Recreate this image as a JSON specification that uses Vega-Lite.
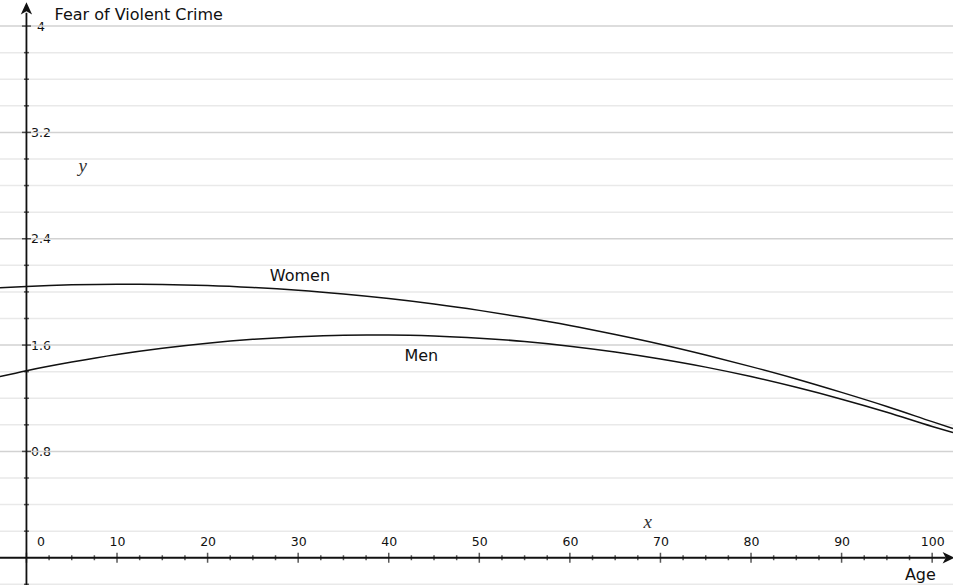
{
  "$schema": "https://vega.github.io/schema/vega-lite/v6.json",
  "width": 953,
  "height": 585,
  "padding": 0,
  "autosize": {"type": "none"},
  "background": "white",
  "config": {"view": {"stroke": null}},
  "datasets": {
    "curves": [
      {"age": -2.92, "fear": 2.031, "group": "Women"},
      {"age": 0, "fear": 2.041, "group": "Women"},
      {"age": 5, "fear": 2.053, "group": "Women"},
      {"age": 10, "fear": 2.058, "group": "Women"},
      {"age": 15, "fear": 2.056, "group": "Women"},
      {"age": 20, "fear": 2.048, "group": "Women"},
      {"age": 25, "fear": 2.033, "group": "Women"},
      {"age": 30, "fear": 2.012, "group": "Women"},
      {"age": 35, "fear": 1.984, "group": "Women"},
      {"age": 40, "fear": 1.95, "group": "Women"},
      {"age": 45, "fear": 1.909, "group": "Women"},
      {"age": 50, "fear": 1.861, "group": "Women"},
      {"age": 55, "fear": 1.807, "group": "Women"},
      {"age": 60, "fear": 1.747, "group": "Women"},
      {"age": 65, "fear": 1.679, "group": "Women"},
      {"age": 70, "fear": 1.606, "group": "Women"},
      {"age": 75, "fear": 1.525, "group": "Women"},
      {"age": 80, "fear": 1.438, "group": "Women"},
      {"age": 85, "fear": 1.345, "group": "Women"},
      {"age": 90, "fear": 1.244, "group": "Women"},
      {"age": 95, "fear": 1.138, "group": "Women"},
      {"age": 100, "fear": 1.024, "group": "Women"},
      {"age": 102.3, "fear": 0.972, "group": "Women"},
      {"age": -2.92, "fear": 1.363, "group": "Men"},
      {"age": 0, "fear": 1.407, "group": "Men"},
      {"age": 5, "fear": 1.472, "group": "Men"},
      {"age": 10, "fear": 1.529, "group": "Men"},
      {"age": 15, "fear": 1.576, "group": "Men"},
      {"age": 20, "fear": 1.614, "group": "Men"},
      {"age": 25, "fear": 1.643, "group": "Men"},
      {"age": 30, "fear": 1.663, "group": "Men"},
      {"age": 35, "fear": 1.674, "group": "Men"},
      {"age": 40, "fear": 1.676, "group": "Men"},
      {"age": 45, "fear": 1.669, "group": "Men"},
      {"age": 50, "fear": 1.652, "group": "Men"},
      {"age": 55, "fear": 1.627, "group": "Men"},
      {"age": 60, "fear": 1.592, "group": "Men"},
      {"age": 65, "fear": 1.548, "group": "Men"},
      {"age": 70, "fear": 1.495, "group": "Men"},
      {"age": 75, "fear": 1.434, "group": "Men"},
      {"age": 80, "fear": 1.363, "group": "Men"},
      {"age": 85, "fear": 1.282, "group": "Men"},
      {"age": 90, "fear": 1.193, "group": "Men"},
      {"age": 95, "fear": 1.095, "group": "Men"},
      {"age": 100, "fear": 0.988, "group": "Men"},
      {"age": 102.3, "fear": 0.942, "group": "Men"}
    ],
    "grid": [
      {"g": -0.2, "kind": "minor", "at": 0}, {"g": 0.2, "kind": "minor", "at": 0}, {"g": 0.4, "kind": "minor", "at": 0}, {"g": 0.6, "kind": "minor", "at": 0},
      {"g": 0.8, "kind": "major", "at": 0}, {"g": 1.0, "kind": "minor", "at": 0}, {"g": 1.2, "kind": "minor", "at": 0}, {"g": 1.4, "kind": "minor", "at": 0},
      {"g": 1.6, "kind": "major", "at": 0}, {"g": 1.8, "kind": "minor", "at": 0}, {"g": 2.0, "kind": "minor", "at": 0}, {"g": 2.2, "kind": "minor", "at": 0},
      {"g": 2.4, "kind": "major", "at": 0}, {"g": 2.6, "kind": "minor", "at": 0}, {"g": 2.8, "kind": "minor", "at": 0}, {"g": 3.0, "kind": "minor", "at": 0},
      {"g": 3.2, "kind": "major", "at": 0}, {"g": 3.4, "kind": "minor", "at": 0}, {"g": 3.6, "kind": "minor", "at": 0}, {"g": 3.8, "kind": "minor", "at": 0},
      {"g": 4.0, "kind": "major", "at": 0}
    ],
    "xticks": [
      {"v": 0, "kind": "major", "at": 0}, {"v": 2.5, "kind": "minor", "at": 0}, {"v": 5, "kind": "minor", "at": 0}, {"v": 7.5, "kind": "minor", "at": 0},
      {"v": 10, "kind": "major", "at": 0}, {"v": 12.5, "kind": "minor", "at": 0}, {"v": 15, "kind": "minor", "at": 0}, {"v": 17.5, "kind": "minor", "at": 0},
      {"v": 20, "kind": "major", "at": 0}, {"v": 22.5, "kind": "minor", "at": 0}, {"v": 25, "kind": "minor", "at": 0}, {"v": 27.5, "kind": "minor", "at": 0},
      {"v": 30, "kind": "major", "at": 0}, {"v": 32.5, "kind": "minor", "at": 0}, {"v": 35, "kind": "minor", "at": 0}, {"v": 37.5, "kind": "minor", "at": 0},
      {"v": 40, "kind": "major", "at": 0}, {"v": 42.5, "kind": "minor", "at": 0}, {"v": 45, "kind": "minor", "at": 0}, {"v": 47.5, "kind": "minor", "at": 0},
      {"v": 50, "kind": "major", "at": 0}, {"v": 52.5, "kind": "minor", "at": 0}, {"v": 55, "kind": "minor", "at": 0}, {"v": 57.5, "kind": "minor", "at": 0},
      {"v": 60, "kind": "major", "at": 0}, {"v": 62.5, "kind": "minor", "at": 0}, {"v": 65, "kind": "minor", "at": 0}, {"v": 67.5, "kind": "minor", "at": 0},
      {"v": 70, "kind": "major", "at": 0}, {"v": 72.5, "kind": "minor", "at": 0}, {"v": 75, "kind": "minor", "at": 0}, {"v": 77.5, "kind": "minor", "at": 0},
      {"v": 80, "kind": "major", "at": 0}, {"v": 82.5, "kind": "minor", "at": 0}, {"v": 85, "kind": "minor", "at": 0}, {"v": 87.5, "kind": "minor", "at": 0},
      {"v": 90, "kind": "major", "at": 0}, {"v": 92.5, "kind": "minor", "at": 0}, {"v": 95, "kind": "minor", "at": 0}, {"v": 97.5, "kind": "minor", "at": 0},
      {"v": 100, "kind": "major", "at": 0}
    ],
    "axes": [
      {"xa": -2.92, "xb": 101.5, "ya": 0, "yb": 0},
      {"xa": 0, "xb": 0, "ya": -0.205, "yb": 4.1}
    ],
    "notes": [
      {"age": 12.4, "fear": 4.083, "text": "Fear of Violent Crime"},
      {"age": 30.2, "fear": 2.12, "text": "Women"},
      {"age": 43.6, "fear": 1.52, "text": "Men"},
      {"age": 98.7, "fear": -0.128, "text": "Age"}
    ],
    "math": [
      {"age": 6.2, "fear": 2.95, "text": "y"},
      {"age": 68.6, "fear": 0.27, "text": "x"}
    ],
    "arrows": [
      {"age": 0, "fear": 4.125, "dir": "up"},
      {"age": 101.7, "fear": 0, "dir": "right"}
    ]
  },
  "layer": [
    {
      "data": {"name": "grid"},
      "mark": {"type": "rule", "strokeWidth": 1.5},
      "encoding": {
        "y": {"field": "g", "type": "quantitative", "scale": {"domain": [-0.205, 4.196], "nice": false, "zero": false},
              "axis": {"orient": "left", "offset": -26.5, "values": [0.8, 1.6, 2.4, 3.2, 4], "grid": false, "domain": false, "ticks": false, "tickSize": 0, "labelAlign": "left", "labelPadding": {"condition": {"test": "datum.value == 4", "value": -10}, "value": -4}, "labelFont": "DejaVu Sans", "labelFontSize": 12.5, "labelColor": "#111", "title": null, "labelBaseline": "middle", "labelExpr": "datum.value == 4 ? '4' : format(datum.value, '.1f')"}},
        "color": {"field": "kind", "type": "nominal", "scale": {"domain": ["major", "minor"], "range": ["#d2d2d2", "#e9e9e9"]}, "legend": null}
      }
    },
    {
      "data": {"name": "curves"},
      "mark": {"type": "line", "interpolate": "monotone", "strokeWidth": 1.5, "color": "#111"},
      "encoding": {
        "x": {"field": "age", "type": "quantitative", "scale": {"domain": [-2.92, 102.3], "nice": false, "zero": false},
              "axis": {"orient": "bottom", "offset": -27.3, "values": [0, 10, 20, 30, 40, 50, 60, 70, 80, 90, 100], "grid": false, "domain": false, "ticks": false, "tickSize": 0, "labelPadding": -9, "labelBaseline": "bottom", "labelFont": "DejaVu Sans", "labelFontSize": 12.5, "labelColor": "#111", "title": null, "labelOffset": {"condition": {"test": "datum.value == 0", "value": 14}, "value": 0}}},
        "y": {"field": "fear", "type": "quantitative"},
        "detail": {"field": "group"}
      }
    },
    {
      "data": {"name": "axes"},
      "mark": {"type": "rule", "strokeWidth": 1.8, "color": "#111"},
      "encoding": {
        "x": {"field": "xa", "type": "quantitative"},
        "x2": {"field": "xb"},
        "y": {"field": "ya", "type": "quantitative"},
        "y2": {"field": "yb"}
      }
    },
    {
      "data": {"name": "arrows"},
      "mark": {"type": "point", "filled": true, "color": "#111", "opacity": 1, "size": 200},
      "encoding": {
        "x": {"field": "age", "type": "quantitative"},
        "y": {"field": "fear", "type": "quantitative"},
        "shape": {"field": "dir", "type": "nominal", "scale": {"domain": ["up", "right"], "range": ["M0,-1L0.8,0.7L0,0.25L-0.8,0.7Z", "M1,0L-0.7,0.8L-0.25,0L-0.7,-0.8Z"]}, "legend": null}
      }
    },
    {
      "data": {"name": "xticks"},
      "mark": {"type": "tick", "orient": "vertical", "thickness": 1.5, "color": "#111"},
      "encoding": {
        "x": {"field": "v", "type": "quantitative"},
        "y": {"field": "at", "type": "quantitative"},
        "size": {"field": "kind", "type": "nominal", "scale": {"domain": ["major", "minor"], "range": [10, 5]}, "legend": null}
      }
    },
    {
      "data": {"name": "grid"},
      "mark": {"type": "tick", "orient": "horizontal", "thickness": 1.5, "color": "#111"},
      "encoding": {
        "y": {"field": "g", "type": "quantitative"},
        "x": {"field": "at", "type": "quantitative"},
        "size": {"field": "kind", "type": "nominal", "scale": {"domain": ["major", "minor"], "range": [9, 5]}, "legend": null}
      }
    },
    {
      "data": {"name": "notes"},
      "mark": {"type": "text", "font": "DejaVu Sans", "fontSize": 16, "color": "#111", "align": "center", "baseline": "middle"},
      "encoding": {
        "x": {"field": "age", "type": "quantitative"},
        "y": {"field": "fear", "type": "quantitative"},
        "text": {"field": "text"}
      }
    },
    {
      "data": {"name": "math"},
      "mark": {"type": "text", "font": "Liberation Serif", "fontStyle": "italic", "fontSize": 19, "color": "#333", "align": "center", "baseline": "middle"},
      "encoding": {
        "x": {"field": "age", "type": "quantitative"},
        "y": {"field": "fear", "type": "quantitative"},
        "text": {"field": "text"}
      }
    }
  ],
  "resolve": {"scale": {"size": "independent"}}
}
